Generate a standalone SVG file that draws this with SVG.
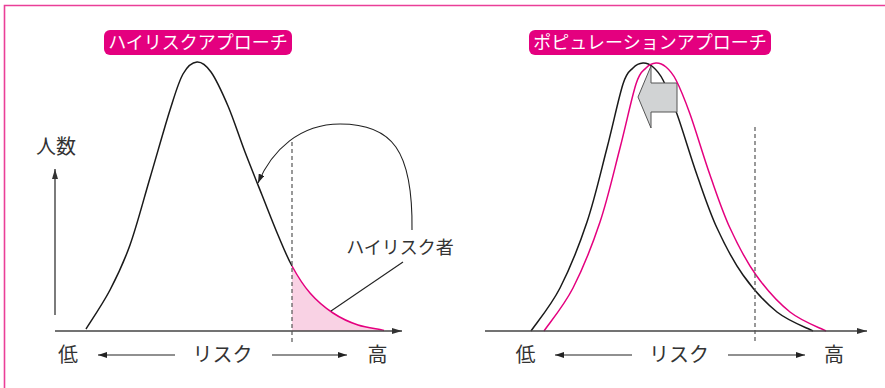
<svg xmlns="http://www.w3.org/2000/svg" width="885" height="388" viewBox="0 0 885 388">
<defs>
<style>
.t{font-family:"Noto Sans CJK JP","Noto Sans CJK SC",sans-serif;fill:#333;font-size:20px;text-anchor:middle}
.tt{font-family:"Noto Sans CJK JP","Noto Sans CJK SC",sans-serif;fill:#fff;font-size:18px;text-anchor:middle}
.ax{fill:none;stroke:#444;stroke-width:1.4}
.ln{fill:none;stroke:#222;stroke-width:1.1}
.cb{fill:none;stroke:#1a1a1a;stroke-width:1.5}
.cp{fill:none;stroke:#e4007f;stroke-width:1.5}
.ds{fill:none;stroke:#555;stroke-width:1.2;stroke-dasharray:4 3}
.lab{fill:#e4007f}
</style>
<marker id="ah" markerUnits="userSpaceOnUse" viewBox="0 0 10 6" refX="10" refY="3" markerWidth="10" markerHeight="6" orient="auto">
<path d="M0,0 L10,3 L0,6 Z" fill="#333"/>
</marker>
<marker id="ah2" markerUnits="userSpaceOnUse" viewBox="0 0 9 6" refX="9" refY="3" markerWidth="9" markerHeight="6" orient="auto">
<path d="M0,0 L9,3 L0,6 Z" fill="#222"/>
</marker>
<path id="bell" d="M531,331 C535.8,323.8 550.7,306.2 560,288 C569.3,269.8 579.2,245.3 587,222 C594.8,198.7 601,171 607,148 C613,125 618.7,97.3 623,84 C627.3,70.7 629.7,71.5 633,68 C636.3,64.5 639.7,63.2 643,63 C646.3,62.8 649.7,64.2 653,67 C656.3,69.8 659,72.2 663,80 C667,87.8 671.3,98.2 677,114 C682.7,129.8 690.3,156 697,175 C703.7,194 709.3,211.3 717,228 C724.7,244.7 733,261 743,275 C753,289 765.3,302.7 777,312 C788.7,321.3 807,327.8 813,331"/>
</defs>
<rect width="885" height="388" fill="#fff"/>
<path d="M4.5,388 V5.5 H885" fill="none" stroke="#ea3f98" stroke-width="1.6"/>

<g id="left-panel">
<g id="title-high-risk">
<rect class="lab" x="104" y="30" width="188" height="25" rx="6"/>
<text class="tt" x="198" y="49">ハイリスクアプローチ</text>
</g>
<g id="y-label"><text class="t" x="56" y="154">人数</text></g>
<g id="high-risk-area">
<path d="M292,331 L292,266 C297.3,275.7 303.2,285.2 310,293 C316.8,300.8 325,307.7 333,313 C341,318.3 349.5,322.2 358,325 C366.5,327.8 379.7,329.2 384,331 Z" fill="#f9d2e4"/>
</g>
<g id="left-curve">
<path class="cb" d="M86,329 C90,322.5 102.7,304 110,290 C117.3,276 123.3,263.7 130,245 C136.7,226.3 143.3,200.5 150,178 C156.7,155.5 164.5,127.3 170,110 C175.5,92.7 178.5,82 183,74 C187.5,66 192.3,62.3 197,62 C201.7,61.7 205.8,64.7 211,72 C216.2,79.3 222.3,92.7 228,106 C233.7,119.3 239.3,137.2 245,152 C250.7,166.8 256.5,181.2 262,195 C267.5,208.8 273,223.2 278,235 C283,246.8 286.7,256.3 292,266"/>
<path class="cp" d="M292,266 C297.3,275.7 303.2,285.2 310,293 C316.8,300.8 325,307.7 333,313 C341,318.3 349.5,322.2 358,325 C366.5,327.8 379.7,329.2 384,330.5"/>
</g>
<g id="high-risk-label"><text class="t" x="400" y="254" style="font-size:18px">ハイリスク者</text></g>
<g id="left-labels">
<text class="t" x="68" y="362">低</text>
<text class="t" x="222.5" y="362">リスク</text>
<text class="t" x="377.5" y="362">高</text>
</g>
</g>

<g id="right-panel">
<g id="title-population">
<rect class="lab" x="529" y="30" width="242" height="25" rx="6"/>
<text class="tt" x="650" y="49">ポピュレーションアプローチ</text>
</g>
<g id="curve-before"><use href="#bell" class="cb"/></g>
<g id="shift-arrow"><polygon points="638,97 651,66 651,83 677,83 677,112 651,112 651,128" fill="#d1d3d4" stroke="#555" stroke-width="1"/></g>
<g id="curve-after"><use href="#bell" class="cp" transform="translate(13,0)"/></g>
<g id="right-labels">
<text class="t" x="525.5" y="362">低</text>
<text class="t" x="679" y="362">リスク</text>
<text class="t" x="834" y="362">高</text>
</g>
</g>

<g id="connectors">
<path class="ax" d="M55,331 H402" marker-end="url(#ah)"/>
<path class="ax" d="M55,315 V169" marker-end="url(#ah)"/>
<path class="ax" d="M485,331 H867" marker-end="url(#ah)"/>
<path class="ds" d="M292,142 V342"/>
<path class="ds" d="M755,127 V342"/>
<path class="ln" d="M412,230 C413,150 392,124 340,124 C300,124 272,150 258,183" marker-end="url(#ah2)"/>
<path class="ln" d="M331,311 L403,262"/>
<path class="ln" d="M175,355 H98" marker-end="url(#ah2)"/>
<path class="ln" d="M272,355 H347" marker-end="url(#ah2)"/>
<path class="ln" d="M632,355 H555" marker-end="url(#ah2)"/>
<path class="ln" d="M728,355 H805" marker-end="url(#ah2)"/>
</g>
</svg>
